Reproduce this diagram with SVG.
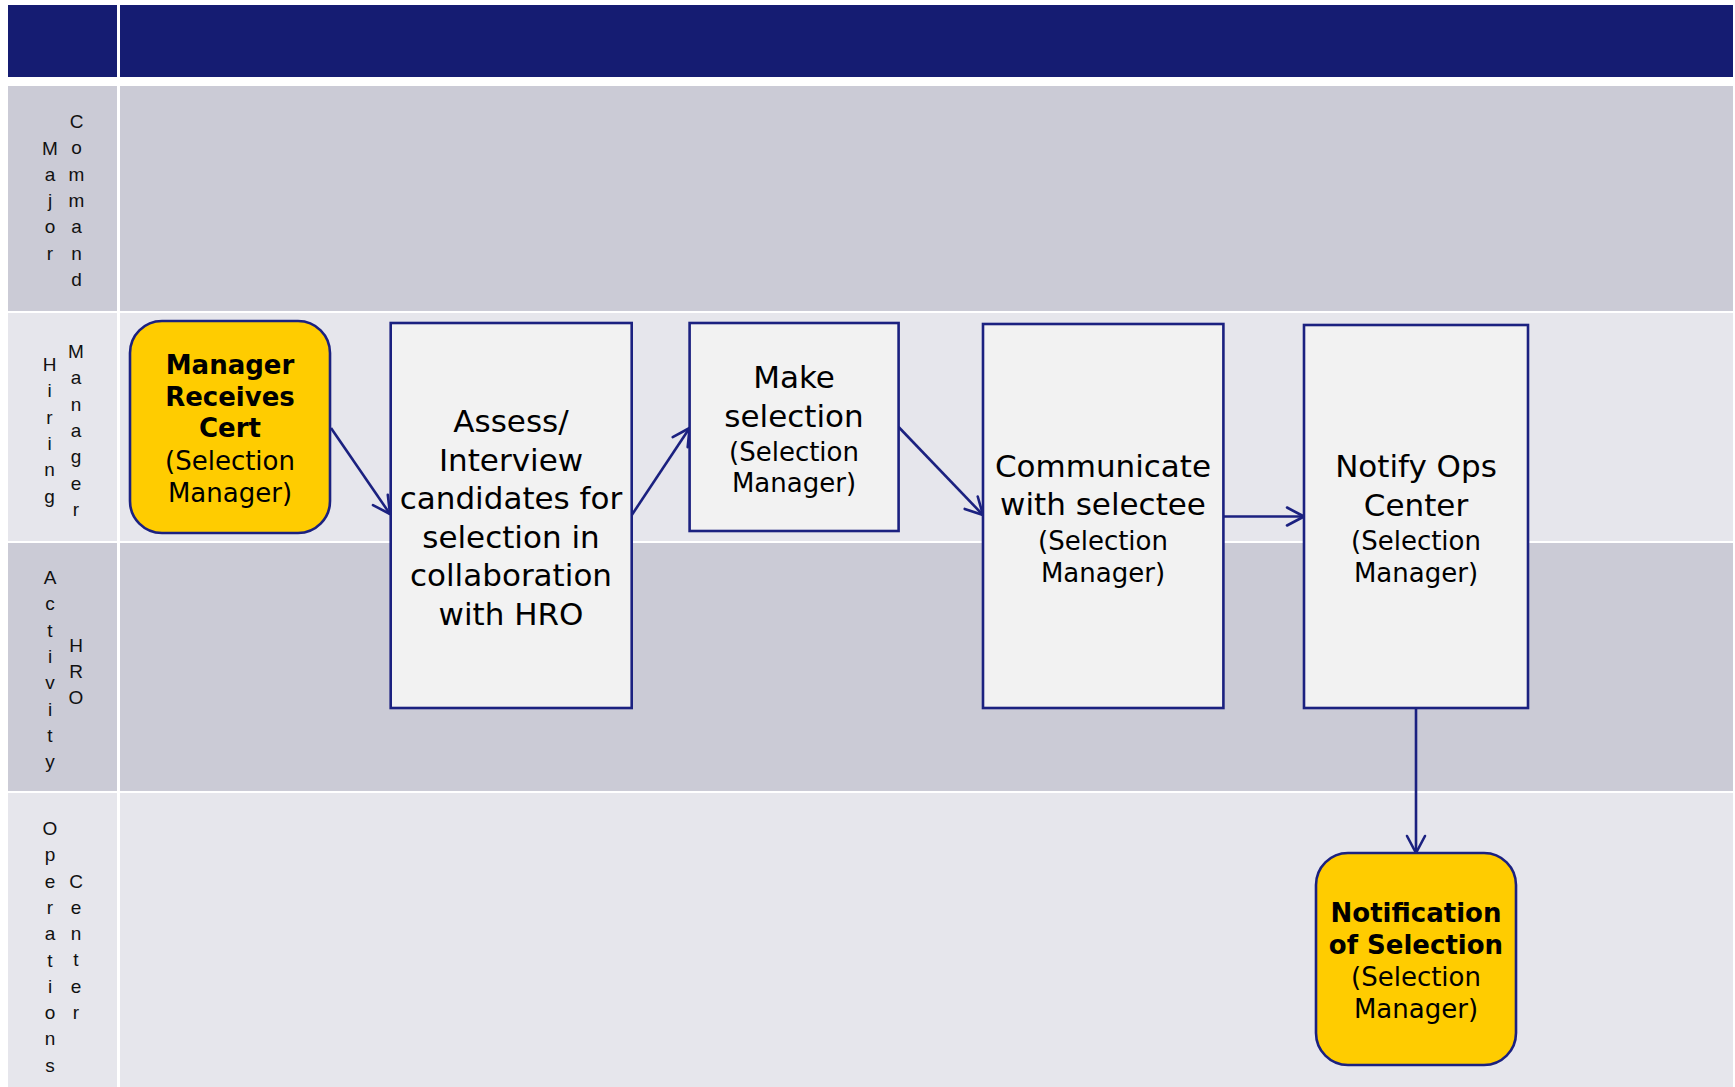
<svg xmlns="http://www.w3.org/2000/svg" width="1735" height="1087" viewBox="0 0 1735 1087">
<style>
.hdr{fill:#151C72}
.laneA{fill:#CBCBD6}
.laneB{fill:#E6E6EC}
.lbl{font-family:"Liberation Sans",Arial,sans-serif;font-size:19px;fill:#111;text-anchor:middle}
.box{fill:#F2F2F2;stroke:#1B2180;stroke-width:2.6}
.term{fill:#FFCC00;stroke:#1B2180;stroke-width:2.6}
.big{font-family:"DejaVu Sans",Verdana,sans-serif;font-size:31px;fill:#000;text-anchor:middle}
.sub{font-family:"DejaVu Sans",Verdana,sans-serif;font-size:26px;fill:#000;text-anchor:middle}
.bold{font-family:"DejaVu Sans",Verdana,sans-serif;font-size:26px;font-weight:bold;fill:#000;text-anchor:middle}
.conn{fill:none;stroke:#1B2180;stroke-width:2.6;marker-end:url(#arr)}
</style>
<defs>
<marker id="arr" markerUnits="userSpaceOnUse" viewBox="0 0 22 22" markerWidth="22" markerHeight="22" refX="19" refY="11" orient="auto">
<path d="M2,2 L19,11 L2,20" fill="none" stroke="#1B2180" stroke-width="2.6" stroke-linecap="round" stroke-linejoin="round"/>
</marker>
</defs>
<rect width="1735" height="1087" fill="#FFFFFF"/>
<g id="lanes">
<rect class="hdr" x="8" y="5" width="109" height="72"/>
<rect class="hdr" x="120" y="5" width="1613" height="72"/>
<rect class="laneA" x="8" y="86" width="109" height="225"/>
<rect class="laneA" x="120" y="86" width="1613" height="225"/>
<rect class="laneB" x="8" y="313" width="109" height="228"/>
<rect class="laneB" x="120" y="313" width="1613" height="228"/>
<rect class="laneA" x="8" y="543" width="109" height="248"/>
<rect class="laneA" x="120" y="543" width="1613" height="248"/>
<rect class="laneB" x="8" y="793" width="109" height="294"/>
<rect class="laneB" x="120" y="793" width="1613" height="294"/>
</g>
<g id="lane-labels">
<text class="lbl"><tspan x="50" y="154.5">M</tspan><tspan x="50" dy="26.3">a</tspan><tspan x="50" dy="26.3">j</tspan><tspan x="50" dy="26.3">o</tspan><tspan x="50" dy="26.3">r</tspan></text>
<text class="lbl"><tspan x="76.5" y="128">C</tspan><tspan x="76.5" dy="26.3">o</tspan><tspan x="76.5" dy="26.3">m</tspan><tspan x="76.5" dy="26.3">m</tspan><tspan x="76.5" dy="26.3">a</tspan><tspan x="76.5" dy="26.3">n</tspan><tspan x="76.5" dy="26.3">d</tspan></text>
<text class="lbl"><tspan x="49.5" y="371">H</tspan><tspan x="49.5" dy="26.3">i</tspan><tspan x="49.5" dy="26.3">r</tspan><tspan x="49.5" dy="26.3">i</tspan><tspan x="49.5" dy="26.3">n</tspan><tspan x="49.5" dy="26.3">g</tspan></text>
<text class="lbl"><tspan x="76" y="358">M</tspan><tspan x="76" dy="26.3">a</tspan><tspan x="76" dy="26.3">n</tspan><tspan x="76" dy="26.3">a</tspan><tspan x="76" dy="26.3">g</tspan><tspan x="76" dy="26.3">e</tspan><tspan x="76" dy="26.3">r</tspan></text>
<text class="lbl"><tspan x="50" y="584">A</tspan><tspan x="50" dy="26.3">c</tspan><tspan x="50" dy="26.3">t</tspan><tspan x="50" dy="26.3">i</tspan><tspan x="50" dy="26.3">v</tspan><tspan x="50" dy="26.3">i</tspan><tspan x="50" dy="26.3">t</tspan><tspan x="50" dy="26.3">y</tspan></text>
<text class="lbl"><tspan x="76" y="651.5">H</tspan><tspan x="76" dy="26.3">R</tspan><tspan x="76" dy="26.3">O</tspan></text>
<text class="lbl"><tspan x="50" y="835">O</tspan><tspan x="50" dy="26.3">p</tspan><tspan x="50" dy="26.3">e</tspan><tspan x="50" dy="26.3">r</tspan><tspan x="50" dy="26.3">a</tspan><tspan x="50" dy="26.3">t</tspan><tspan x="50" dy="26.3">i</tspan><tspan x="50" dy="26.3">o</tspan><tspan x="50" dy="26.3">n</tspan><tspan x="50" dy="26.3">s</tspan></text>
<text class="lbl"><tspan x="76" y="887.5">C</tspan><tspan x="76" dy="26.3">e</tspan><tspan x="76" dy="26.3">n</tspan><tspan x="76" dy="26.3">t</tspan><tspan x="76" dy="26.3">e</tspan><tspan x="76" dy="26.3">r</tspan></text>
</g>
<g id="connectors">
<line class="conn" x1="331" y1="428" x2="390" y2="514"/>
<line class="conn" x1="631.8" y1="515" x2="689.6" y2="428"/>
<line class="conn" x1="898.6" y1="427" x2="983" y2="515"/>
<line class="conn" x1="1223.4" y1="516.5" x2="1304" y2="516.5"/>
<line class="conn" x1="1416" y1="708" x2="1416" y2="853"/>
</g>
<g id="node-receives-cert">
<rect class="term" x="130" y="321" width="200" height="212" rx="32" ry="32"/>
<text class="bold" x="230" y="374">Manager</text>
<text class="bold" x="230" y="406">Receives</text>
<text class="bold" x="230" y="437">Cert</text>
<text class="sub" x="230" y="470">(Selection</text>
<text class="sub" x="230" y="502">Manager)</text>
</g>
<g id="node-assess">
<rect class="box" x="390.7" y="323" width="241" height="385"/>
<text class="big" x="511" y="432">Assess/</text>
<text class="big" x="511" y="470.5">Interview</text>
<text class="big" x="511" y="509">candidates for</text>
<text class="big" x="511" y="547.5">selection in</text>
<text class="big" x="511" y="586">collaboration</text>
<text class="big" x="511" y="624.5">with HRO</text>
</g>
<g id="node-make-selection">
<rect class="box" x="689.6" y="323" width="209" height="208"/>
<text class="big" x="794" y="388">Make</text>
<text class="big" x="794" y="427">selection</text>
<text class="sub" x="794" y="461">(Selection</text>
<text class="sub" x="794" y="492">Manager)</text>
</g>
<g id="node-communicate">
<rect class="box" x="983" y="324" width="240.4" height="384"/>
<text class="big" x="1103" y="477">Communicate</text>
<text class="big" x="1103" y="515">with selectee</text>
<text class="sub" x="1103" y="550">(Selection</text>
<text class="sub" x="1103" y="582">Manager)</text>
</g>
<g id="node-notify-ops">
<rect class="box" x="1304" y="325" width="224" height="383"/>
<text class="big" x="1416" y="477">Notify Ops</text>
<text class="big" x="1416" y="515.5">Center</text>
<text class="sub" x="1416" y="550">(Selection</text>
<text class="sub" x="1416" y="582">Manager)</text>
</g>
<g id="node-notification">
<rect class="term" x="1316" y="853" width="200" height="212" rx="32" ry="32"/>
<text class="bold" x="1416" y="922">Notification</text>
<text class="bold" x="1416" y="954">of Selection</text>
<text class="sub" x="1416" y="986">(Selection</text>
<text class="sub" x="1416" y="1018">Manager)</text>
</g>
</svg>
